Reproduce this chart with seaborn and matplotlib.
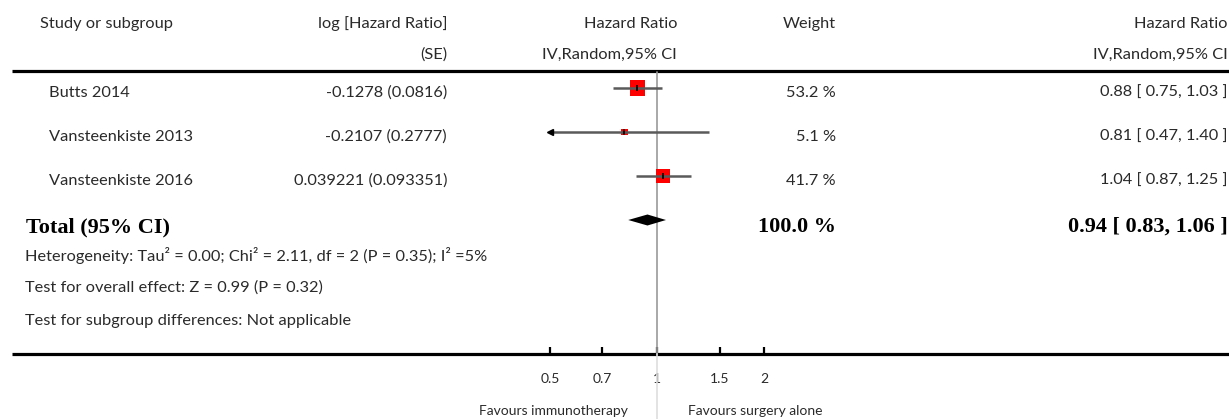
import pandas as pd
import matplotlib.pyplot as plt
import seaborn as sns

studies = ["Butts 2014", "Vansteenkiste 2013", "Vansteenkiste 2016"]
log_hr_se = ["-0.1278 (0.0816)", "-0.2107 (0.2777)", "0.039221 (0.093351)"]
hr = [0.88, 0.81, 1.04]
ci_low = [0.75, 0.47, 0.87]
ci_high = [1.03, 1.40, 1.25]
weights = [53.2, 5.1, 41.7]
total_hr = 0.94
total_low = 0.83
total_high = 1.06
total_weight = 100.0
footnotes = [
    "Heterogeneity: Tau\u00b2 = 0.00; Chi\u00b2 = 2.11, df = 2 (P = 0.35); I\u00b2 =5%",
    "Test for overall effect: Z = 0.99 (P = 0.32)",
    "Test for subgroup differences: Not applicable",
]
tick_values = [0.5, 0.7, 1, 1.5, 2]
tick_labels = ["0.5", "0.7", "1", "1.5", "2"]
favours_left = "Favours immunotherapy"
favours_right = "Favours surgery alone"

sns.set_theme(style="white")
plt.rcParams["font.family"] = ["Lato", "DejaVu Sans"]

W, H = 1229, 419
fig = plt.figure(figsize=(W / 100, H / 100), dpi=100)

# background axes in pixel coordinates for the table layout
bg = fig.add_axes([0, 0, 1, 1])
bg.set_xlim(0, W)
bg.set_ylim(H, 0)
bg.axis("off")

txt = "#2a2a2a"
fs = 11.8
bfs = 16
serif = ["Liberation Serif", "DejaVu Serif"]
right_x = 1228

# header
bg.text(40, 24, "Study or subgroup", ha="left", va="center", fontsize=fs, color=txt)
bg.text(447, 24, "log [Hazard Ratio]", ha="right", va="center", fontsize=fs, color=txt)
bg.text(447, 55, "(SE)", ha="right", va="center", fontsize=fs, color=txt)
bg.text(677, 24, "Hazard Ratio", ha="right", va="center", fontsize=fs, color=txt)
bg.text(677, 55, "IV,Random,95% CI", ha="right", va="center", fontsize=fs, color=txt)
bg.text(836, 24, "Weight", ha="right", va="center", fontsize=fs, color=txt)
bg.text(right_x, 24, "Hazard Ratio", ha="right", va="center", fontsize=fs, color=txt)
bg.text(right_x, 55, "IV,Random,95% CI", ha="right", va="center", fontsize=fs, color=txt)

bg.plot([12, W], [71.5, 71.5], color="black", lw=2.3, solid_capstyle="butt")
bg.plot([12, W], [354, 354], color="black", lw=2.3, solid_capstyle="butt")

# study rows
row_top, row_step = 88, 44
for i, name in enumerate(studies):
    y = row_top + row_step * i + 5
    bg.text(49, y, name, ha="left", va="center", fontsize=fs, color=txt)
    bg.text(447, y, log_hr_se[i], ha="right", va="center", fontsize=fs, color=txt)
    bg.text(836, y, f"{weights[i]:.1f} %", ha="right", va="center", fontsize=fs, color=txt)
    bg.text(right_x, y, f"{hr[i]:.2f} [ {ci_low[i]:.2f}, {ci_high[i]:.2f} ]",
            ha="right", va="center", fontsize=fs, color=txt)

y_tot = row_top + row_step * len(studies) + 7
bg.text(26, y_tot, "Total (95% CI)", ha="left", va="center", fontsize=bfs,
        fontweight="bold", family=serif, color="black")
bg.text(836, y_tot, f"{total_weight:.1f} %", ha="right", va="center", fontsize=bfs,
        fontweight="bold", family=serif, color="black")
bg.text(right_x, y_tot, f"{total_hr:.2f} [ {total_low:.2f}, {total_high:.2f} ]",
        ha="right", va="center", fontsize=bfs, fontweight="bold", family=serif,
        color="black")

for k, line in enumerate(footnotes):
    bg.text(25, 255 + 33 * k, line, ha="left", va="center", fontsize=fs, color=txt)

bg.text(628, 411, favours_left, ha="right", va="center", fontsize=10, color=txt)
bg.text(688, 411, favours_right, ha="left", va="center", fontsize=10, color=txt)

# forest axes: 0.5 -> x=550px, 2 -> x=764px ; row i -> 88 + 44 i px
ax_top, ax_bot = 72, 354
fax = fig.add_axes([550 / W, (H - ax_bot) / H, 214 / W, (ax_bot - ax_top) / H])
fax.patch.set_alpha(0)

df = pd.DataFrame({"hr": hr, "row": range(len(studies)), "weight": weights,
                   "lo": ci_low, "hi": ci_high})

sns.scatterplot(data=df, x="hr", y="row", size="weight", sizes=(25, 117),
                marker="s", color="#ff0000", linewidth=0, legend=False,
                ax=fax, zorder=3, clip_on=False)
fax.set_xscale("log")
fax.set_xlim(0.5, 2)
fax.set_ylim((ax_bot - row_top) / row_step, (ax_top - row_top) / row_step)

xmin = fax.get_xlim()[0]
lo_drawn = df["lo"].clip(lower=xmin)
fax.hlines(df["row"], lo_drawn, df["hi"], color="#5a5a5a", lw=1.8, zorder=4,
           clip_on=False)
fax.plot(df["hr"], df["row"], ls="none", marker="|", ms=5, mew=1.2,
         color="black", zorder=5, clip_on=False)
clipped = df[df["lo"] < xmin]
fax.plot([xmin] * len(clipped), clipped["row"], ls="none", marker="<", ms=4,
         color="black", zorder=5, clip_on=False)

yt = len(studies)
dh = 5.5 / row_step
fax.fill([total_low, total_hr, total_high, total_hr],
         [yt, yt - dh, yt, yt + dh], color="black", lw=0, zorder=4, clip_on=False)

fax.axvline(1, ymin=0, ymax=1, color="#9a9a9a", lw=1.2, zorder=1, clip_on=False)
fax.axvline(1, ymin=-65 / (ax_bot - ax_top), ymax=0, color="#dedede", lw=1.2,
            zorder=1, clip_on=False)

fax.set_xticks(tick_values)
fax.set_xticklabels(tick_labels)
fax.minorticks_off()
fax.set_yticks([])
fax.set_xlabel("")
fax.set_ylabel("")
fax.tick_params(axis="x", direction="in", length=5, width=1.6, color="black",
                pad=14, labelsize=10, labelcolor=txt, bottom=True)
for s in fax.spines.values():
    s.set_visible(False)

fig.savefig("out.png", dpi=100)
